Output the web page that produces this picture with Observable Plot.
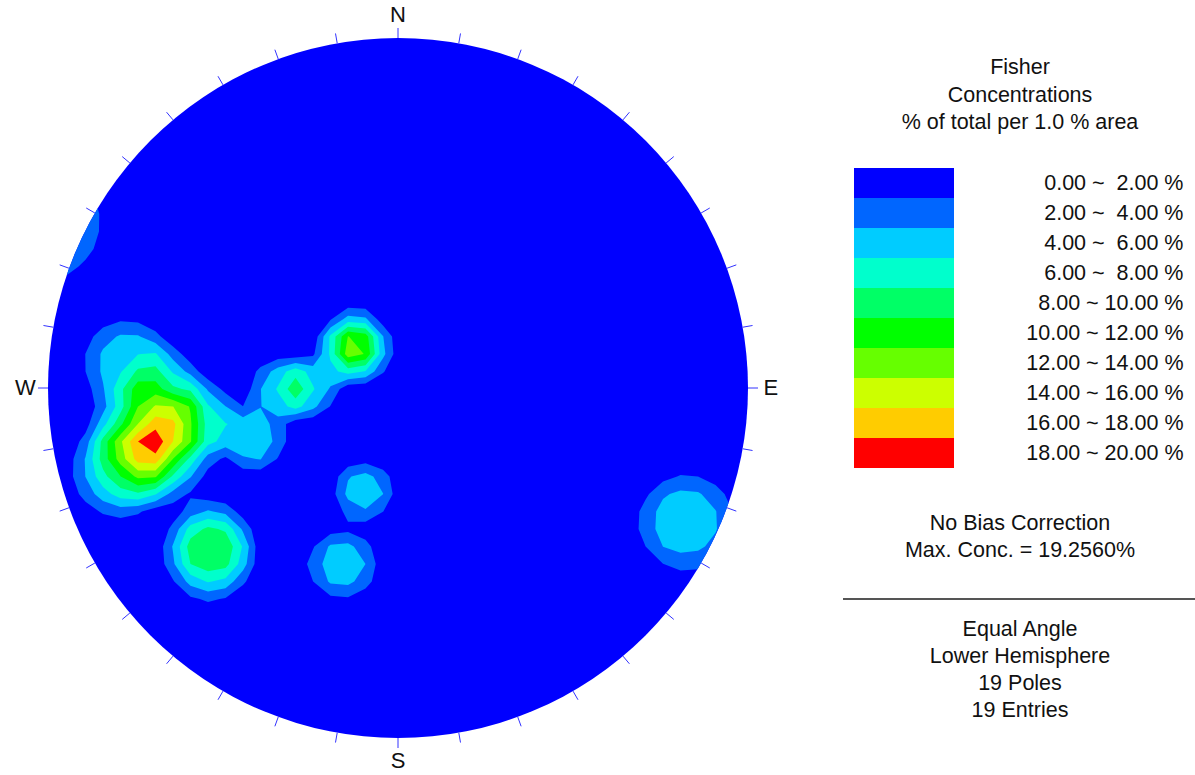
<!DOCTYPE html>
<html><head><meta charset="utf-8">
<script src="https://cdn.jsdelivr.net/npm/d3@7"></script>
<script src="https://cdn.jsdelivr.net/npm/@observablehq/plot@0.6"></script>
<style>
body{margin:0;background:#fff;font-family:"Liberation Sans",Arial,sans-serif;}
#wrap{position:relative;width:1195px;height:775px;overflow:hidden;background:#fff;}
#wrap svg{position:absolute;top:0;}
svg text{white-space:pre;}
.blk{position:absolute;left:820px;width:400px;text-align:center;font-size:21.5px;line-height:27.3px;color:#111;}
.rule{position:absolute;left:843px;top:598px;width:352px;height:2px;background:#555;}
</style></head><body><div id="wrap"></div>
<script>
// Poles (trend / plunge, degrees) read from the stereonet
const poleTrend  = [115.0, 198.6, 197.6, 250.6,
                    230.9, 227.4, 269.8, 269.7, 320.4, 302.6, 316.2,
                    261.8, 260.6, 255.0, 252.9, 261.0, 269.6, 275.4, 253.4];
const polePlunge = [  6.0,  55.7,  34.5,  43.0,
                     21.1,  18.2,  53.2,  61.6,  68.0,  69.3,  74.4,
                     16.5,  23.5,  15.2,  21.8,  31.5,  22.8,  14.6,  10.8];

// Concentration bands (% of total per 1 % area)
const bandLower  = [0, 2, 4, 6, 8, 10, 12, 14, 16, 18];
const bandLabels = ["0.00 ~  2.00 %","2.00 ~  4.00 %","4.00 ~  6.00 %","6.00 ~  8.00 %","8.00 ~ 10.00 %",
                    "10.00 ~ 12.00 %","12.00 ~ 14.00 %","14.00 ~ 16.00 %","16.00 ~ 18.00 %","18.00 ~ 20.00 %"];
const bandColors = ["#0000ff","#0066ff","#00ccff","#00ffcc","#00ff66","#00ff00","#66ff00","#ccff00","#ffcc00","#ff0000"];

// Compass
const compassLabels = ["N","E","S","W"];
const compassAz     = [0, 90, 180, 270];
const tickAz        = [0,10,20,30,40,50,60,70,80,90,100,110,120,130,140,150,160,170,180,190,200,210,220,230,240,250,260,270,280,290,300,310,320,330,340,350];

// Smoothing kernel (angular), evaluated on a coarse counting grid
const peakPerPole = 5.0, spread = 0.152, shape = 4;
const rad = Math.PI / 180;
const poleVec = poleTrend.map((t, i) => {
  const tr = t * rad, pl = polePlunge[i] * rad;
  return [Math.cos(pl) * Math.sin(tr), Math.cos(pl) * Math.cos(tr), Math.sin(pl)];
});
function concentration(x, y) {
  const r = Math.hypot(x, y), g = 2 * Math.atan(r), s = r ? Math.sin(g) / r : 0;
  const v = [x * s, y * s, Math.cos(g)];
  let sum = 0;
  for (const q of poleVec) {
    const c = Math.min(1, Math.abs(v[0] * q[0] + v[1] * q[1] + v[2] * q[2]));
    sum += peakPerPole * Math.exp(-Math.pow(Math.acos(c) / spread, shape));
  }
  return sum;
}

const wrap = document.getElementById("wrap");

const net = Plot.plot({
  width: 800, height: 775,
  marginLeft: 47.5, marginRight: 52.5, marginTop: 37.5, marginBottom: 37.5,
  x: {domain: [-1, 1], axis: null},
  y: {domain: [-1, 1], axis: null},
  color: {type: "ordinal", domain: bandLower, range: bandColors},
  style: {fontFamily: "Liberation Sans, Arial, sans-serif", background: "transparent"},
  marks: [
    Plot.contour({fill: concentration, x1: -1.117857, x2: 1.032143, y1: -1.027857, y2: 1.022143, width: 43, height: 41,
                  thresholds: bandLower, stroke: "none"}),
    Plot.link(tickAz, {x1: a => Math.sin(a * rad), y1: a => Math.cos(a * rad),
                       x2: a => 1.0286 * Math.sin(a * rad), y2: a => 1.0286 * Math.cos(a * rad),
                       stroke: "#3333ff", strokeWidth: 1}),
    Plot.text(compassLabels, {x: (d, i) => 1.065 * Math.sin(compassAz[i] * rad), y: (d, i) => 1.065 * Math.cos(compassAz[i] * rad),
                              text: d => d, fontSize: 22, fill: "#111"})
  ]
});
wrap.appendChild(net);
{
  const X = net.scale("x"), Y = net.scale("y");
  const svg = d3.select(net);
  svg.insert("defs", ":first-child").append("clipPath").attr("id", "disk")
     .append("circle").attr("cx", X.apply(0)).attr("cy", Y.apply(0)).attr("r", X.apply(1) - X.apply(0));
  svg.select('g[aria-label="contour"]').attr("clip-path", "url(#disk)");
}

const legend = Plot.plot({
  width: 395, height: 775, margin: 0,
  x: {type: "band", domain: ["swatch"], range: [54, 154], padding: 0, axis: null},
  y: {type: "band", domain: bandLabels, range: [165, 470], padding: 0, axis: null},
  color: {type: "ordinal", domain: bandLower, range: bandColors},
  style: {fontFamily: "Liberation Sans, Arial, sans-serif", background: "transparent"},
  marks: [
    Plot.cell(bandLabels, {x: () => "swatch", y: d => d, fill: (d, i) => bandLower[i]}),
    Plot.text(bandLabels, {y: d => d, frameAnchor: "right", dx: -12, textAnchor: "end", text: d => d, fontSize: 21.5, fill: "#111"})
  ]
});
legend.style.left = "800px";
wrap.appendChild(legend);

function block(lines, top) {
  const d = document.createElement("div");
  d.className = "blk"; d.style.top = top + "px";
  d.innerHTML = lines.map(s => `<div>${s}</div>`).join("");
  wrap.appendChild(d);
}
block(["Fisher", "Concentrations", "% of total per 1.0 % area"], 54.3);
block(["No Bias Correction", "Max. Conc. = 19.2560%"], 509.5);
const rule = document.createElement("div"); rule.className = "rule"; wrap.appendChild(rule);
block(["Equal Angle", "Lower Hemisphere", "19 Poles", "19 Entries"], 615.5);
</script></body></html>
